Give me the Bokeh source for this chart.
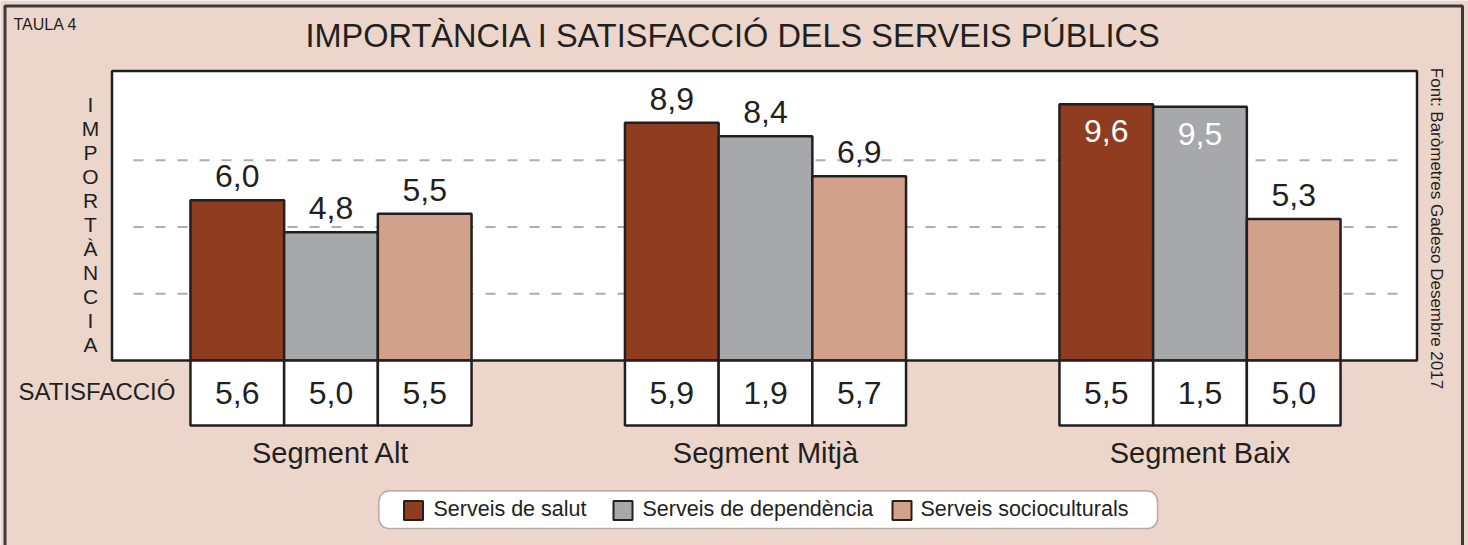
import math
from bokeh.plotting import figure
from bokeh.models import Range1d, BoxAnnotation
from bokeh.core.properties import value
from bokeh.embed import file_html
from bokeh.resources import INLINE

# ---------------- data ----------------
segments = ["Segment Alt", "Segment Mitjà", "Segment Baix"]
services = ["Serveis de salut", "Serveis de dependència", "Serveis socioculturals"]
importancia_salut = [6.0, 8.9, 9.6]
importancia_dependencia = [4.8, 8.4, 9.5]
importancia_socioculturals = [5.5, 6.9, 5.3]
satisfaccio_salut = [5.6, 5.9, 5.5]
satisfaccio_dependencia = [5.0, 1.9, 1.5]
satisfaccio_socioculturals = [5.5, 5.7, 5.0]
grid_values = [2.5, 5.0, 7.5]

title_text = "IMPORTÀNCIA I SATISFACCIÓ DELS SERVEIS PÚBLICS"
table_text = "TAULA 4"
y_label = "IMPORTÀNCIA"
row_label = "SATISFACCIÓ"
source_text = "Font: Baròmetres Gadeso Desembre 2017"

# ---------------- style / layout ----------------
BG = "#ecd6cc"
INK = "#231f20"
colors = ["#8f3c21", "#a7a8ab", "#d1a18a"]
FONT = value("Liberation Sans")

W, H = 1468, 545
ORIGIN = 0           # page offset of the figure
BASE = 360           # page y of importance 0
PXU = 26.7           # pixels per importance unit
GC0, GSTEP = 330.5, 434.5   # page x of first group centre, distance between groups
BW = 93.7 / GSTEP    # bar width in group units


def gx(px):
    return (px - GC0) / GSTEP


def vy(py):
    return (BASE - py) / PXU


def fmt(v):
    return f"{v:.1f}".replace(".", ",")


p = figure(width=W, height=H,
           x_range=Range1d(gx(ORIGIN), gx(ORIGIN + W)),
           y_range=Range1d(vy(ORIGIN + H), vy(ORIGIN)),
           output_backend="svg", toolbar_location=None,
           x_axis_location=None, y_axis_location=None,
           min_border=0, outline_line_color=None,
           background_fill_color=BG, border_fill_color=BG)
p.grid.visible = False

# outer frame (left, top, right)
p.multi_line(xs=[[gx(4.5), gx(4.5), gx(1462), gx(1462)]],
             ys=[[vy(560), vy(5.5), vy(5.5), vy(560)]],
             line_color="#3a3a3a", line_width=3)

# white importance panel
p.quad(left=gx(111.5), right=gx(1416.5), top=vy(70.5), bottom=0,
       fill_color="white", line_color=INK, line_width=2.5)

# dashed gridlines
p.segment(x0=[gx(133)] * len(grid_values), x1=[gx(1400)] * len(grid_values),
          y0=grid_values, y1=grid_values,
          line_color="#adadad", line_width=2, line_dash="10 12")

imp = [importancia_salut, importancia_dependencia, importancia_socioculturals]
sat = [satisfaccio_salut, satisfaccio_dependencia, satisfaccio_socioculturals]

for j, (vals, svals, col) in enumerate(zip(imp, sat, colors)):
    xs = [i + (j - 1) * BW for i in range(len(segments))]
    p.vbar(x=xs, top=vals, bottom=0, width=BW,
           fill_color=col, line_color=INK, line_width=2.5)
    # satisfaction cells
    p.vbar(x=xs, top=0, bottom=vy(425), width=BW,
           fill_color="white", line_color=INK, line_width=2.5)
    p.text(x=xs, y=[vy(392)] * len(xs), text=[fmt(v) for v in svals],
           text_align="center", text_baseline="alphabetic",
           text_font=FONT, text_font_size="32px", text_color=INK)
    # importance labels: above the bar, or inside when the bar is too tall
    inside = [v > 9.0 for v in vals]
    p.text(x=xs, y=vals, text=[fmt(v) for v in vals],
           y_offset=[27 if k else -24 for k in inside],
           text_color=["white" if k else INK for k in inside],
           text_align="center", text_baseline="alphabetic",
           text_font=FONT, text_font_size="32px")

# segment labels
p.text(x=list(range(len(segments))), y=[vy(452)] * len(segments), text=segments,
       text_align="center", text_baseline="alphabetic",
       text_font=FONT, text_font_size="29px", text_color=INK)

# title and small texts
p.text(x=[gx(733)], y=[vy(35)], text=[title_text], text_align="center",
       text_baseline="alphabetic", text_font=FONT, text_font_size="32.5px", text_color=INK)
p.text(x=[gx(13)], y=[vy(24)], text=[table_text], text_align="left",
       text_baseline="alphabetic", text_font=FONT, text_font_size="16px", text_color=INK)
p.text(x=[gx(18)], y=[vy(391)], text=[row_label], text_align="left",
       text_baseline="alphabetic", text_font=FONT, text_font_size="24px", text_color=INK)
letters = list(y_label)
p.text(x=[gx(90)] * len(letters), y=[vy(104 + 24 * k) for k in range(len(letters))],
       text=letters, text_align="center", text_baseline="alphabetic",
       text_font=FONT, text_font_size="21px", text_color=INK)
p.text(x=[gx(1436)], y=[vy(228)], text=[source_text], angle=-math.pi / 2,
       text_align="center", text_baseline="middle",
       text_font=FONT, text_font_size="17px", text_color=INK)

# legend
legend_box = BoxAnnotation(left=gx(378.5), right=gx(1157), top=vy(490.5), bottom=vy(528),
                           fill_color="white", fill_alpha=1.0, line_color=INK,
                           line_width=1.5, border_radius=10, level="underlay")
p.add_layout(legend_box)
swatch_px = [413, 622.5, 901.5]
label_px = [433, 642, 920]
p.rect(x=[gx(v) for v in swatch_px], y=[vy(510)] * 3, width=19, height=19,
       width_units="screen", height_units="screen",
       fill_color=colors, line_color=INK, line_width=2)
p.text(x=[gx(v) for v in label_px], y=[vy(508)] * 3, text=services,
       text_align="left", text_baseline="alphabetic",
       text_font=FONT, text_font_size="21.5px", text_color=INK)

open("out.html", "w").write(file_html(p, INLINE))
